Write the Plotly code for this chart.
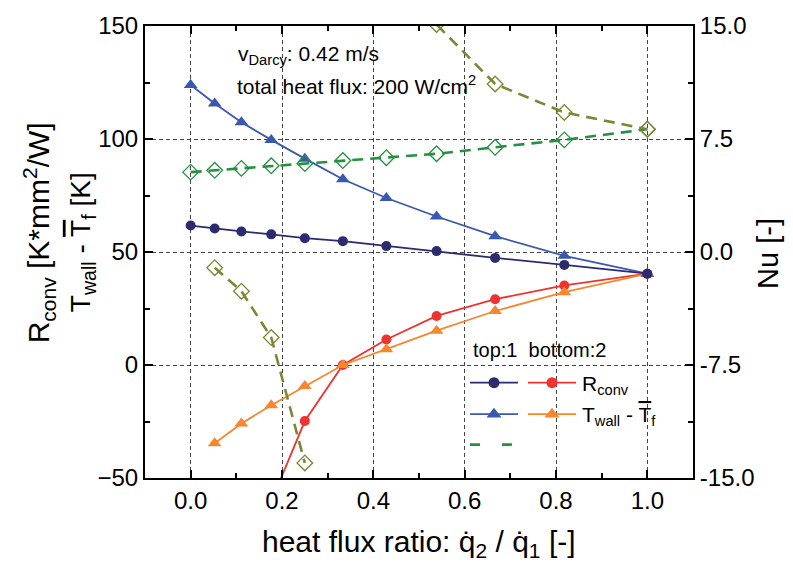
import plotly.graph_objects as go

# heat flux ratio q2/q1 (total heat flux 200 W/cm^2)
ratio = [0.0, 0.0526, 0.1111, 0.1765, 0.25, 0.3333, 0.4286, 0.5385, 0.6667, 0.8182, 1.0]

# convective resistance [K*mm^2/W]
r_conv_top = [61.7, 60.4, 59.1, 57.8, 56.1, 54.8, 52.6, 50.4, 47.4, 44.3, 40.4]
r_conv_bottom = [None, -316.0, -126.0, -60.4, -24.8, 0.0, 11.3, 21.7, 29.1, 35.2, 40.4]

# wall-to-fluid temperature difference [K]
dt_top = [123.9, 115.7, 107.4, 99.6, 91.3, 82.2, 73.9, 65.7, 57.0, 48.3, 40.4]
dt_bottom = [None, -34.6, -25.9, -17.8, -9.3, 0.0, 7.0, 15.2, 23.9, 32.2, 40.4]

# Nusselt number [-]
nu_top = [5.30, 5.42, 5.55, 5.72, 5.87, 6.07, 6.26, 6.52, 6.95, 7.44, 8.15]
nu_bottom = [None, -1.04, -2.6, -5.68, -14.0, None, 29.0, 15.1, 11.15, 9.26, 8.15]

x_ticks = [0.0, 0.2, 0.4, 0.6, 0.8, 1.0]
y_ticks = [-50, 0, 50, 100, 150]
y2_ticks = [-15, -7.5, 0, 7.5, 15]
y2_labels = ["-15.0", "-7.5", "0.0", "7.5", "15.0"]

NAVY = "#2c2b70"
BLUE = "#3a58b0"
RED = "#ee3330"
ORANGE = "#f7862d"
GREEN = "#24913f"
OLIVE = "#7d8634"
FONT = "Liberation Sans, Arial, sans-serif"

W, H = 793, 569
L, R, T, B = 145, 100, 18, 91
PW, PH = W - L - R, H - T - B


def px_x(p):
    return (p - L) / PW


def px_y(p):
    return (H - B - p) / PH


fig = go.Figure()

fig.add_trace(go.Scatter(x=ratio, y=nu_top, yaxis="y2", mode="lines+markers",
                         line=dict(color=GREEN, width=2.6, dash="11px,7px"),
                         marker=dict(symbol="diamond-open", size=12, color=GREEN, line=dict(width=1.3))))
fig.add_trace(go.Scatter(x=ratio, y=nu_bottom, yaxis="y2", mode="lines+markers",
                         line=dict(color=OLIVE, width=2.6, dash="11px,7px"),
                         marker=dict(symbol="diamond-open", size=12, color=OLIVE, line=dict(width=1.3))))
fig.add_trace(go.Scatter(x=ratio, y=r_conv_bottom, mode="lines+markers",
                         line=dict(color=RED, width=1.8),
                         marker=dict(symbol="circle", size=10, color=RED)))
fig.add_trace(go.Scatter(x=ratio, y=dt_bottom, mode="lines+markers",
                         line=dict(color=ORANGE, width=1.8),
                         marker=dict(symbol="triangle-up", size=12, color=ORANGE)))
fig.add_trace(go.Scatter(x=ratio, y=dt_top, mode="lines+markers",
                         line=dict(color=BLUE, width=1.8),
                         marker=dict(symbol="triangle-up", size=12, color=BLUE)))
fig.add_trace(go.Scatter(x=ratio, y=r_conv_top, mode="lines+markers",
                         line=dict(color=NAVY, width=1.8),
                         marker=dict(symbol="circle", size=10, color=NAVY)))


# legend keys, drawn on a pixel-based overlay axis
def key(x0, x1, y, color, symbol, size, dash="solid", width=1.8):
    fig.add_trace(go.Scatter(x=[x0, x1], y=[y, y], xaxis="x3", yaxis="y3", mode="lines",
                             line=dict(color=color, width=width, dash=dash),
                             cliponaxis=False, hoverinfo="skip"))
    if symbol:
        fig.add_trace(go.Scatter(x=[(x0 + x1) / 2], y=[y], xaxis="x3", yaxis="y3", mode="markers",
                                 marker=dict(symbol=symbol, size=size, color=color),
                                 cliponaxis=False, hoverinfo="skip"))


key(470, 518, 381, NAVY, "circle", 11)
key(528, 576, 381, RED, "circle", 11)
key(470, 518, 413, BLUE, "triangle-up", 13)
key(528, 576, 413, ORANGE, "triangle-up", 13)
key(470, 518, 444, GREEN, None, 0, dash="10px,22px", width=2.6)

axis_font = dict(family=FONT, size=24, color="black")
common = dict(showline=True, linewidth=2, linecolor="black", ticks="inside", ticklen=8,
              tickwidth=2, tickcolor="black", tickfont=axis_font, zeroline=False)

fig.update_layout(
    width=W, height=H, margin=dict(l=L, r=R, t=T, b=B),
    paper_bgcolor="white", plot_bgcolor="white", showlegend=False,
    font=dict(family=FONT, color="black"),
    xaxis=dict(range=[-0.1, 1.1], tickvals=x_ticks, tickformat=".1f", mirror="ticks",
               showgrid=True, gridcolor="#444", griddash="4px,3px", gridwidth=1,
               minor=dict(dtick=0.1, tick0=0, ticks="inside", ticklen=5, tickwidth=2,
                          tickcolor="black", showgrid=False),
               **common),
    yaxis=dict(range=[-50, 150], tickvals=y_ticks,
               showgrid=True, gridcolor="#444", griddash="4px,3px", gridwidth=1,
               minor=dict(dtick=25, tick0=0, ticks="inside", ticklen=5, tickwidth=2,
                          tickcolor="black", showgrid=False),
               **common),
    yaxis2=dict(range=[-15, 15], tickvals=y2_ticks, ticktext=y2_labels, overlaying="y",
                side="right", showgrid=False,
                minor=dict(dtick=3.75, tick0=0, ticks="inside", ticklen=5, tickwidth=2,
                           tickcolor="black", showgrid=False),
                **common),
    xaxis3=dict(range=[L, L + PW], overlaying="x", visible=False, fixedrange=True),
    yaxis3=dict(range=[H - B, T], overlaying="y", visible=False, fixedrange=True),
)

# white boxes behind the text blocks (above the grid, below the data)
for (xa, xb, ya, yb) in [(228, 377, 32, 64), (228, 473, 60, 95),
                         (461, 641, 323, 458), (640, 671, 358, 442)]:
    fig.add_shape(type="rect", xref="paper", yref="paper",
                  x0=px_x(xa), x1=px_x(xb), y0=px_y(yb), y1=px_y(ya),
                  fillcolor="white", line=dict(width=0), layer="between")

OVER_T = '<span style="text-decoration:overline">T</span>'
ann = [
    (px_x(236), px_y(48), "left", 0, 21, "v<sub>Darcy</sub>: 0.42 m/s"),
    (px_x(235), px_y(78), "left", 0, 21, "total heat flux: 200 W/cm<sup>2</sup>"),
    (px_x(471), px_y(348), "left", 0, 20, "top:1  bottom:2"),
    (px_x(580), px_y(383), "left", 0, 21, "R<sub>conv</sub>"),
    (px_x(580), px_y(415), "left", 0, 21, "T<sub>wall</sub> - " + OVER_T + "<sub>f</sub>"),
    (0.5, px_y(545), "center", 0, 30, "heat flux ratio: q\u0307<sub>2</sub> / q\u0307<sub>1</sub> [-]"),
    (px_x(39), px_y(228), "center", -90, 30, "R<sub>conv</sub> [K*mm<sup>2</sup>/W]"),
    (px_x(82), px_y(238), "center", -90, 28, "T<sub>wall</sub> - " + OVER_T + "<sub>f</sub> [K]"),
    (px_x(768), px_y(250), "center", -90, 29, "Nu [-]"),
]
for x, y, xa, ang, size, text in ann:
    fig.add_annotation(x=x, y=y, xref="paper", yref="paper", xanchor=xa, yanchor="middle",
                       text=text, showarrow=False, textangle=ang,
                       font=dict(family=FONT, size=size, color="black"))

fig.write_html("out.html")
